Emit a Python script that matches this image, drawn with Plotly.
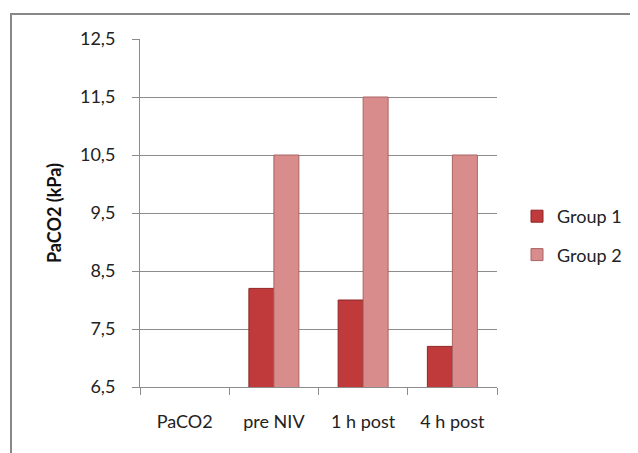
import plotly.graph_objects as go

categories = ["PaCO2", "pre NIV", "1 h post", "4 h post"]
group1 = [None, 8.2, 8.0, 7.2]
group2 = [None, 10.5, 11.5, 10.5]
series_names = ["Group 1", "Group 2"]
y_ticks = [6.5, 7.5, 8.5, 9.5, 10.5, 11.5, 12.5]
y_tick_labels = ["6,5", "7,5", "8,5", "9,5", "10,5", "11,5", "12,5"]

FONT = "Lato, Open Sans, sans-serif"
fig = go.Figure()
fig.add_trace(go.Bar(x=categories, y=group1, name=series_names[0],
                     marker=dict(color="#C0393B", line=dict(color="#8E2526", width=1)),
                     legendgroup="g1"))
fig.add_trace(go.Bar(x=categories, y=group2, name=series_names[1],
                     marker=dict(color="#D98C8C", line=dict(color="#A86464", width=1)),
                     legendgroup="g2"))

OFF = 8  # browser body margin
W, H = 638 - OFF, 453 - OFF
L, T = 140 - OFF, 39 - OFF
R, B = 141, 66
pw, ph = W - L - R, H - T - B

def px_x(p):
    return (p - OFF - L) / pw

def px_y(p):
    return (H - B - (p - OFF)) / ph

fig.update_layout(
    width=W, height=H,
    margin=dict(l=L, r=R, t=T, b=B, autoexpand=False),
    paper_bgcolor="white", plot_bgcolor="white",
    barmode="group", bargap=0.44, bargroupgap=0,
    font=dict(family=FONT, size=18, color="#222"),
    showlegend=True,
    legend=dict(x=px_x(517), y=px_y(198), xanchor="left", yanchor="top",
                font=dict(size=18, color="#222"), tracegroupgap=12,
                traceorder="grouped", itemwidth=30, bgcolor="rgba(0,0,0,0)"),
    shapes=[dict(type="rect", xref="paper", yref="paper",
                 x0=px_x(11), x1=px_x(660), y0=px_y(480), y1=px_y(14),
                 line=dict(color="#888888", width=2), layer="below")],
)
fig.update_yaxes(range=[6.5, 12.5], tickvals=y_ticks, ticktext=y_tick_labels,
                 showgrid=True, gridcolor="#8c8c8c", gridwidth=1,
                 showline=True, linecolor="#8c8c8c", linewidth=1,
                 ticks="outside", ticklen=7, tickcolor="#8c8c8c",
                 ticklabelstandoff=13, zeroline=False,
                 title=dict(text="<b>PaCO2 (kPa)</b>", font=dict(size=18, color="#111"), standoff=13))
fig.update_xaxes(showline=True, linecolor="#8c8c8c", linewidth=1,
                 ticks="outside", ticklen=7, tickcolor="#8c8c8c",
                 tickson="boundaries", ticklabelstandoff=18, showgrid=False)

fig.write_html("out.html")
